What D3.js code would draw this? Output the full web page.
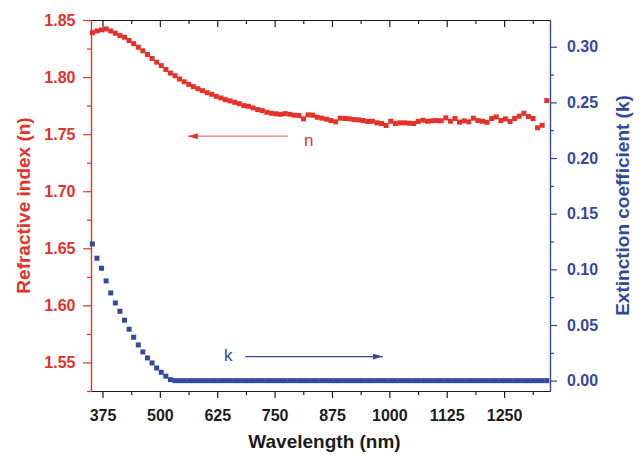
<!DOCTYPE html>
<html>
<head>
<meta charset="utf-8">
<script src="https://cdn.jsdelivr.net/npm/d3@7"></script>
<style>
  body { margin: 0; background: #fff; }
  svg { display: block; font-family: "Liberation Sans", Arial, sans-serif; }
</style>
</head>
<body>
<script>
// wavelength of each sample (nm)
const wavelengths = [
  353, 363, 373, 383, 393, 403, 413, 423, 433, 443,
  453, 463, 473, 483, 493, 503, 513, 523, 533, 543,
  553, 563, 573, 583, 593, 603, 613, 623, 633, 643,
  653, 663, 673, 683, 693, 703, 713, 723, 733, 743,
  753, 763, 773, 783, 793, 803, 813, 823, 833, 843,
  853, 863, 873, 883, 893, 903, 913, 923, 933, 943,
  953, 963, 973, 983, 993, 1003, 1013, 1023, 1033, 1043,
  1053, 1063, 1073, 1083, 1093, 1103, 1113, 1123, 1133, 1143,
  1153, 1163, 1173, 1183, 1193, 1203, 1213, 1223, 1233, 1243,
  1253, 1263, 1273, 1283, 1293, 1303, 1313, 1323, 1333, 1343
];

// refractive index n
const nValues = [
  1.8389, 1.8404, 1.8413, 1.8422, 1.8404, 1.8384, 1.8363, 1.8349, 1.8320, 1.8293,
  1.8262, 1.8230, 1.8198, 1.8163, 1.8131, 1.8100, 1.8067, 1.8035, 1.8012, 1.7983,
  1.7959, 1.7936, 1.7916, 1.7898, 1.7881, 1.7863, 1.7849, 1.7831, 1.7817, 1.7802,
  1.7791, 1.7779, 1.7767, 1.7750, 1.7744, 1.7730, 1.7715, 1.7706, 1.7692, 1.7683,
  1.7678, 1.7674, 1.7680, 1.7674, 1.7666, 1.7663, 1.7634, 1.7669, 1.7666, 1.7648,
  1.7640, 1.7631, 1.7619, 1.7608, 1.7640, 1.7637, 1.7634, 1.7628, 1.7625, 1.7619,
  1.7611, 1.7613, 1.7599, 1.7593, 1.7576, 1.7613, 1.7593, 1.7599, 1.7599, 1.7596,
  1.7593, 1.7611, 1.7622, 1.7613, 1.7617, 1.7619, 1.7617, 1.7643, 1.7613, 1.7637,
  1.7605, 1.7617, 1.7608, 1.7640, 1.7619, 1.7613, 1.7604, 1.7637, 1.7651, 1.7619,
  1.7634, 1.7611, 1.7637, 1.7657, 1.7683, 1.7654, 1.7637, 1.7556, 1.7578, 1.7794
];

// extinction coefficient k
const kValues = [
  0.1228, 0.1100, 0.1010, 0.0896, 0.0788, 0.0698, 0.0623, 0.0543, 0.0462, 0.0390,
  0.0321, 0.0258, 0.0204, 0.0159, 0.0114, 0.0075, 0.0040, 0.0009, 0, 0,
  0, 0, 0, 0, 0, 0, 0, 0, 0, 0,
  0, 0, 0, 0, 0, 0, 0, 0, 0, 0,
  0, 0, 0, 0, 0, 0, 0, 0, 0, 0,
  0, 0, 0, 0, 0, 0, 0, 0, 0, 0,
  0, 0, 0, 0, 0, 0, 0, 0, 0, 0,
  0, 0, 0, 0, 0, 0, 0, 0, 0, 0,
  0, 0, 0, 0, 0, 0, 0, 0, 0, 0,
  0, 0, 0, 0, 0, 0, 0, 0, 0, 0
];

const xTicks = [375, 500, 625, 750, 875, 1000, 1125, 1250];
const xMinor = [437.5, 562.5, 687.5, 812.5, 937.5, 1062.5, 1187.5, 1312.5];
const nTicks = [1.55, 1.60, 1.65, 1.70, 1.75, 1.80, 1.85];
const nMinor = [1.525, 1.575, 1.625, 1.675, 1.725, 1.775, 1.825];
const kTicks = [0, 0.05, 0.10, 0.15, 0.20, 0.25, 0.30];
const kMinor = [0.025, 0.075, 0.125, 0.175, 0.225, 0.275];

// annotation arrows, in data units
const nArrow = { x1: 779, x2: 561, y: 1.7482, label: "n", lx: 814, ly: 1.7395 };
const kArrow = { x1: 686, x2: 986, y: 0.0216, label: "k", lx: 640, ly: 0.0177 };

const w = 643, h = 455;
const padL = 91, padR = 550, padT = 20, padB = 391;
const red = "#e4312a", blue = "#34489e", ink = "#1c1c1c";

const svg = d3.select("body").append("svg")
  .attr("width", w)
  .attr("height", h);

const xScale = d3.scaleLinear().domain([350, 1350]).range([padL, padR]);
const yN = d3.scaleLinear().domain([1.525, 1.85]).range([padB, padT]);
const yK = d3.scaleLinear().domain([-0.0093, 0.324]).range([padB, padT]);

const defs = svg.append("defs");
defs.append("marker").attr("id", "headN")
  .attr("viewBox", "0 0 10 6").attr("refX", 10).attr("refY", 3)
  .attr("markerWidth", 10).attr("markerHeight", 6)
  .attr("markerUnits", "userSpaceOnUse").attr("orient", "auto")
  .append("path").attr("d", "M0,0L10,3L0,6Z").attr("fill", red);
defs.append("marker").attr("id", "headK")
  .attr("viewBox", "0 0 10 6").attr("refX", 10).attr("refY", 3)
  .attr("markerWidth", 10).attr("markerHeight", 6)
  .attr("markerUnits", "userSpaceOnUse").attr("orient", "auto")
  .append("path").attr("d", "M0,0L10,3L0,6Z").attr("fill", blue);

// axes
const styleAxis = (g, color, size) => {
  g.selectAll("path.domain").attr("stroke", color).attr("stroke-width", 1.2);
  g.selectAll(".tick line").attr("stroke", color).attr("stroke-width", 1.2);
  g.selectAll(".tick text")
    .attr("fill", color)
    .style("font-size", size + "px")
    .style("font-weight", "bold");
};

// bottom
svg.append("g")
  .attr("transform", "translate(0," + padB + ")")
  .call(d3.axisBottom(xScale).tickValues(xMinor).tickSize(4).tickSizeOuter(0).tickFormat(""))
  .call(g => styleAxis(g, ink, 16));
svg.append("g")
  .attr("transform", "translate(0," + padB + ")")
  .call(d3.axisBottom(xScale).tickValues(xTicks).tickSize(7).tickPadding(12).tickSizeOuter(0).tickFormat(d3.format("d")))
  .call(g => styleAxis(g, ink, 16));

// top
svg.append("g")
  .attr("transform", "translate(0," + padT + ")")
  .call(d3.axisTop(xScale).tickValues(xMinor).tickSize(-4).tickSizeOuter(0).tickFormat(""))
  .call(g => styleAxis(g, ink, 16));
svg.append("g")
  .attr("transform", "translate(0," + padT + ")")
  .call(d3.axisTop(xScale).tickValues(xTicks).tickSize(-7).tickSizeOuter(0).tickFormat(""))
  .call(g => styleAxis(g, ink, 16));

// left (n)
svg.append("g")
  .attr("transform", "translate(" + padL + ",0)")
  .call(d3.axisLeft(yN).tickValues(nMinor).tickSize(4).tickSizeOuter(0).tickFormat(""))
  .call(g => styleAxis(g, red, 16));
svg.append("g")
  .attr("transform", "translate(" + padL + ",0)")
  .call(d3.axisLeft(yN).tickValues(nTicks).tickSize(8).tickPadding(7.5).tickSizeOuter(0).tickFormat(d3.format(".2f")))
  .call(g => styleAxis(g, red, 16));

// right (k)
svg.append("g")
  .attr("transform", "translate(" + padR + ",0)")
  .call(d3.axisRight(yK).tickValues(kMinor).tickSize(4).tickSizeOuter(0).tickFormat(""))
  .call(g => styleAxis(g, blue, 16));
svg.append("g")
  .attr("transform", "translate(" + padR + ",0)")
  .call(d3.axisRight(yK).tickValues(kTicks).tickSize(7).tickPadding(10).tickSizeOuter(0).tickFormat(d3.format(".2f")))
  .call(g => styleAxis(g, blue, 16));

// axis titles
svg.append("text")
  .attr("x", (padL + padR) / 2 + 4)
  .attr("y", 448)
  .attr("text-anchor", "middle")
  .attr("fill", ink)
  .style("font-size", "19px").style("font-weight", "bold")
  .text("Wavelength (nm)");

svg.append("text")
  .attr("transform", "translate(30," + ((padT + padB) / 2) + ") rotate(-90)")
  .attr("text-anchor", "middle")
  .attr("fill", red)
  .style("font-size", "19px").style("font-weight", "bold")
  .text("Refractive index (n)");

svg.append("text")
  .attr("transform", "translate(629," + ((padT + padB) / 2) + ") rotate(-90)")
  .attr("text-anchor", "middle")
  .attr("fill", blue)
  .style("font-size", "19px").style("font-weight", "bold")
  .text("Extinction coefficient (k)");

// data
const ms = 5;
svg.append("g").selectAll("rect")
  .data(wavelengths)
  .enter()
  .append("rect")
  .attr("x", d => xScale(d) - ms / 2)
  .attr("y", (d, i) => yN(nValues[i]) - ms / 2)
  .attr("width", ms)
  .attr("height", ms)
  .attr("fill", red);

svg.append("g").selectAll("rect")
  .data(wavelengths)
  .enter()
  .append("rect")
  .attr("x", d => xScale(d) - ms / 2)
  .attr("y", (d, i) => yK(kValues[i]) - ms / 2)
  .attr("width", ms)
  .attr("height", ms)
  .attr("fill", blue);

// annotations
svg.append("line")
  .attr("x1", xScale(nArrow.x1)).attr("x2", xScale(nArrow.x2))
  .attr("y1", yN(nArrow.y)).attr("y2", yN(nArrow.y))
  .attr("stroke", "#ec7a72").attr("stroke-width", 1.2)
  .attr("marker-end", "url(#headN)");
svg.append("text")
  .attr("x", xScale(nArrow.lx)).attr("y", yN(nArrow.ly))
  .attr("fill", red)
  .style("font-size", "17px")
  .text(nArrow.label);

svg.append("line")
  .attr("x1", xScale(kArrow.x1)).attr("x2", xScale(kArrow.x2))
  .attr("y1", yK(kArrow.y)).attr("y2", yK(kArrow.y))
  .attr("stroke", blue).attr("stroke-width", 1.2)
  .attr("marker-end", "url(#headK)");
svg.append("text")
  .attr("x", xScale(kArrow.lx)).attr("y", yK(kArrow.ly))
  .attr("fill", blue)
  .style("font-size", "17px")
  .text(kArrow.label);
</script>
</body>
</html>
